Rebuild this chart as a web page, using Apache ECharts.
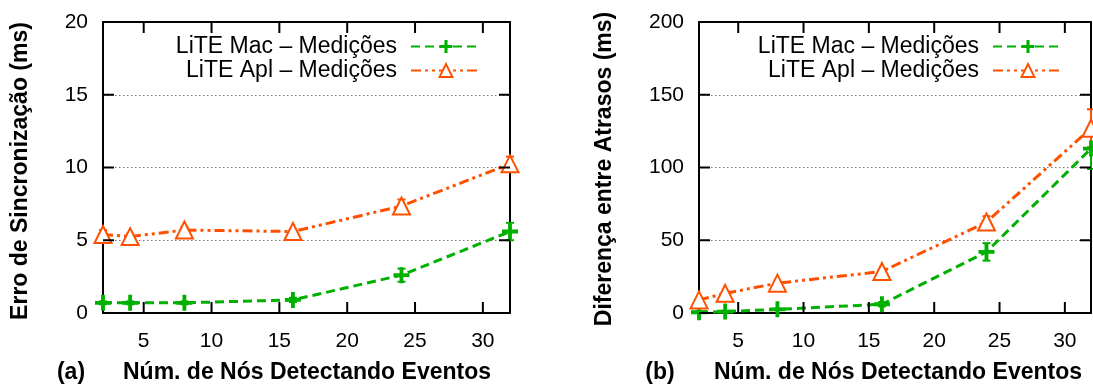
<!DOCTYPE html>
<html>
<head>
<meta charset="utf-8">
<script src="https://cdn.jsdelivr.net/npm/echarts@6/dist/echarts.min.js"></script>
<style>
html,body{margin:0;padding:0;background:#fff;}
#chart{width:1093px;height:387px;}
</style>
</head>
<body>
<div id="chart"></div>
<script>
// ---- data ----
const nodes = [2, 4, 8, 16, 24, 32];
const xTicks = [5, 10, 15, 20, 25, 30];
const yTicksA = [0, 5, 10, 15, 20];
const yTicksB = [0, 50, 100, 150, 200];
const nameMac = 'LiTE Mac – Medições';
const nameApl = 'LiTE Apl – Medições';

// (a) Erro de Sincronização (ms)
const syncMac    = [0.7, 0.7, 0.7, 0.9, 2.6, 5.6];
const syncMacErr = [0.1, 0.1, 0.1, 0.15, 0.45, 0.6];
const syncApl    = [5.4, 5.25, 5.7, 5.6, 7.35, 10.25];
const syncAplErr = [0.3, 0.2, 0.2, 0.15, 0.45, 0.5];

// (b) Diferença entre Atrasos (ms)
const delayMac    = [0.5, 1, 2.5, 6, 42, 113];
const delayMacErr = [0.5, 0.5, 0.5, 1.5, 6, 14];
const delayApl    = [9, 13.5, 20.5, 28.5, 62.5, 127];
const delayAplErr = [1, 1, 1, 1.5, 4, 13];

// ---- styles ----
const GREEN = '#00b000';
const ORANGE = '#ff5000';
const FONT = '"Liberation Sans", Arial, Helvetica, sans-serif';
const PLUS = 'path://M3.8,0H6.2V3.8H10V6.2H6.2V10H3.8V6.2H0V3.8H3.8Z';
const TICK_LEN = 11;

function pairs(xs, ys) { return xs.map((x, i) => [x, ys[i]]); }
function triples(xs, ys, es) { return xs.map((x, i) => [x, ys[i], es[i]]); }

function errRender(color) {
  return function (params, api) {
    const x = api.value(0), y = api.value(1), e = api.value(2);
    const hi = api.coord([x, y + e]);
    const lo = api.coord([x, y - e]);
    const w = 4;
    const st = { stroke: color, lineWidth: 2 };
    return {
      type: 'group',
      children: [
        { type: 'line', shape: { x1: hi[0], y1: hi[1], x2: lo[0], y2: lo[1] }, style: st },
        { type: 'line', shape: { x1: hi[0] - w, y1: hi[1], x2: hi[0] + w, y2: hi[1] }, style: st },
        { type: 'line', shape: { x1: lo[0] - w, y1: lo[1], x2: lo[0] + w, y2: lo[1] }, style: st }
      ]
    };
  };
}

// mirrored inward ticks on all four sides, placed through the axes' scales
function tickRender(params, api) {
  const cs = params.coordSys;
  const st = { stroke: '#000', lineWidth: 2 };
  const p = api.coord([api.value(0), api.value(1)]);
  if (api.value(2) === 0) {
    const top = cs.y, bot = cs.y + cs.height;
    return { type: 'group', children: [
      { type: 'line', shape: { x1: p[0], y1: bot, x2: p[0], y2: bot - TICK_LEN }, style: st },
      { type: 'line', shape: { x1: p[0], y1: top, x2: p[0], y2: top + TICK_LEN }, style: st }
    ]};
  }
  const l = cs.x, r = cs.x + cs.width;
  return { type: 'group', children: [
    { type: 'line', shape: { x1: l, y1: p[1], x2: l + TICK_LEN, y2: p[1] }, style: st },
    { type: 'line', shape: { x1: r, y1: p[1], x2: r - TICK_LEN, y2: p[1] }, style: st }
  ]};
}

function tickData(xs, ys, ymin, xmin) {
  return xs.map(v => [v, ymin, 0]).concat(ys.map(v => [xmin, v, 1]));
}

const grids = [
  { left: 103, top: 22, width: 407, height: 291 },
  { left: 699, top: 22, width: 392, height: 291 }
];

const axisLineStyle = { show: true, onZero: false, lineStyle: { color: '#000', width: 2 } };

function xAxes(gi) {
  return [
    {
      type: 'value', gridIndex: gi, position: 'bottom', min: 2, max: 32,
      axisLine: axisLineStyle,
      axisTick: { show: false },
      axisLabel: { show: true, customValues: xTicks, fontSize: 21, color: '#000', fontFamily: FONT, margin: 18 },
      splitLine: { show: false }
    },
    {
      type: 'value', gridIndex: gi, position: 'top', min: 2, max: 32,
      axisLine: axisLineStyle,
      axisTick: { show: false },
      axisLabel: { show: false },
      splitLine: { show: false }
    }
  ];
}

function yAxes(gi, max, interval) {
  return [
    {
      type: 'value', gridIndex: gi, position: 'left', min: 0, max: max, interval: interval,
      axisLine: axisLineStyle,
      axisTick: { show: false },
      axisLabel: { show: true, fontSize: 21, color: '#000', fontFamily: FONT, margin: 15 },
      splitLine: { show: true, lineStyle: { color: '#777', width: 1, type: [1.5, 2.5] } }
    },
    {
      type: 'value', gridIndex: gi, position: 'right', min: 0, max: max, interval: interval,
      axisLine: axisLineStyle,
      axisTick: { show: false },
      axisLabel: { show: false },
      splitLine: { show: false }
    }
  ];
}

function plotSeries(gi, mac, macErr, apl, aplErr, yTicks, ymax) {
  const xi = gi * 2, yi = gi * 2;
  return [
    {
      type: 'custom', name: 'ticks' + gi, xAxisIndex: xi, yAxisIndex: yi, clip: false,
      renderItem: tickRender, data: tickData(xTicks, yTicks, 0, 2), z: 6, silent: true
    },
    {
      type: 'custom', name: 'errMac' + gi, xAxisIndex: xi, yAxisIndex: yi, clip: false,
      renderItem: errRender(GREEN), data: triples(nodes, mac, macErr), z: 3, silent: true
    },
    {
      type: 'custom', name: 'errApl' + gi, xAxisIndex: xi, yAxisIndex: yi, clip: false,
      renderItem: errRender(ORANGE), data: triples(nodes, apl, aplErr), z: 3, silent: true
    },
    {
      type: 'line', name: nameMac, xAxisIndex: xi, yAxisIndex: yi, clip: false,
      data: pairs(nodes, mac),
      symbol: PLUS, symbolSize: 16,
      itemStyle: { color: GREEN, borderWidth: 0 },
      lineStyle: { color: GREEN, width: 3, type: [9, 5] },
      z: 4
    },
    {
      type: 'line', name: nameApl, xAxisIndex: xi, yAxisIndex: yi, clip: false,
      data: pairs(nodes, apl),
      symbol: 'emptyTriangle', symbolSize: 17,
      itemStyle: { color: ORANGE, borderColor: ORANGE, borderWidth: 3 },
      lineStyle: { color: ORANGE, width: 3, type: [10, 4, 3, 4, 3, 4] },
      z: 5
    }
  ];
}

function legend(rightPx) {
  return {
    data: [nameMac, nameApl],
    orient: 'vertical', align: 'right',
    right: rightPx, top: 35, padding: 0,
    itemWidth: 70, itemHeight: 16, itemGap: 1,
    selectedMode: false,
    textStyle: { fontSize: 23, color: '#000', fontFamily: FONT, padding: [0, 9, 0, 0] }
  };
}

const titleStyle = { fill: '#000', font: 'bold 23px ' + FONT, align: 'center', verticalAlign: 'middle' };

const option = {
  animation: false,
  backgroundColor: '#fff',
  grid: grids,
  xAxis: xAxes(0).concat(xAxes(1)),
  yAxis: yAxes(0, 20, 5).concat(yAxes(1, 200, 50)),
  legend: [legend(611), legend(29)],
  series: plotSeries(0, syncMac, syncMacErr, syncApl, syncAplErr, yTicksA)
    .concat(plotSeries(1, delayMac, delayMacErr, delayApl, delayAplErr, yTicksB)),
  graphic: [
    { type: 'text', x: 21, y: 171, rotation: Math.PI / 2, style: Object.assign({ text: 'Erro de Sincronização (ms)' }, titleStyle) },
    { type: 'text', x: 605, y: 169, rotation: Math.PI / 2, style: Object.assign({ text: 'Diferença entre Atrasos (ms)' }, titleStyle) },
    { type: 'text', x: 71, y: 373, style: Object.assign({ text: '(a)' }, titleStyle) },
    { type: 'text', x: 307, y: 373, style: Object.assign({ text: 'Núm. de Nós Detectando Eventos' }, titleStyle) },
    { type: 'text', x: 660, y: 373, style: Object.assign({ text: '(b)' }, titleStyle) },
    { type: 'text', x: 898, y: 373, style: Object.assign({ text: 'Núm. de Nós Detectando Eventos' }, titleStyle) }
  ]
};

const chart = echarts.init(document.getElementById('chart'), null, { renderer: 'canvas' });
chart.setOption(option);
</script>
</body>
</html>
